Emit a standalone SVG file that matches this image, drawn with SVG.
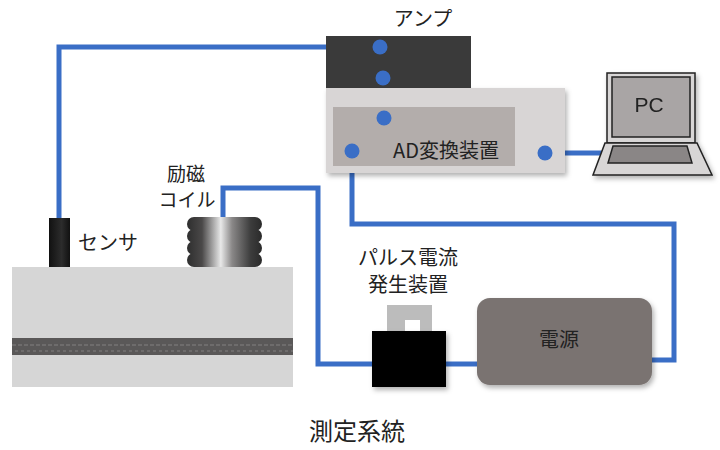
<svg xmlns="http://www.w3.org/2000/svg" width="720" height="450" viewBox="0 0 720 450">
  <defs>
    <style>
      .wire { fill: none; stroke: #3a6ec6; stroke-width: 5; stroke-linejoin: miter; }
      .dot { fill: #3a6ec6; }
      .lbl { font-family: "Noto Sans CJK JP", "Noto Sans", sans-serif; fill: #222; font-size: 20px; }
      .mid { text-anchor: middle; }
    </style>
    <filter id="shadow" x="-10%" y="-10%" width="125%" height="135%">
      <feDropShadow dx="2" dy="3" stdDeviation="2.5" flood-color="#000" flood-opacity="0.3"/>
    </filter>
    <linearGradient id="coilGrad" x1="0" y1="0" x2="1" y2="0">
      <stop offset="0" stop-color="#2e2e2e"/>
      <stop offset="0.2" stop-color="#4a4848"/>
      <stop offset="0.45" stop-color="#e8e8e8"/>
      <stop offset="0.6" stop-color="#8a8888"/>
      <stop offset="0.85" stop-color="#3c3c3c"/>
      <stop offset="1" stop-color="#2a2a2a"/>
    </linearGradient>
    <linearGradient id="sensorGrad" x1="0" y1="0" x2="1" y2="0">
      <stop offset="0" stop-color="#111"/>
      <stop offset="0.6" stop-color="#2c2c2c"/>
      <stop offset="1" stop-color="#111"/>
    </linearGradient>
    <pattern id="rebar" width="6" height="17" patternUnits="userSpaceOnUse">
      <rect width="6" height="17" fill="#5a5858"/>
      <rect x="0" y="4" width="4" height="2" fill="#6e6c6c"/>
      <rect x="3" y="10" width="4" height="2" fill="#6e6c6c"/>
    </pattern>
  </defs>

  <!-- connectors -->
  <g id="connectors">
    <polyline class="wire" points="59,220 59,47 380,47"/>
    <line class="wire" x1="383" y1="78" x2="383" y2="118"/>
    <line class="wire" x1="545" y1="153" x2="607" y2="153"/>
    <polyline class="wire" points="223,217 223,188 318,188 318,364 372,364"/>
    <line class="wire" x1="446" y1="364" x2="478" y2="364"/>
    <polyline class="wire" points="352,151 352,224 674,224 674,360 650,360"/>
  </g>

  <!-- test specimen with embedded rebar -->
  <g id="specimen">
    <rect x="12" y="267" width="281" height="120" fill="#d6d6d6"/>
    <rect x="12" y="338" width="281" height="17" fill="url(#rebar)"/>
  </g>

  <g id="sensor">
    <rect x="49" y="218" width="21" height="49" fill="url(#sensorGrad)"/>
    <text class="lbl" x="78" y="250">センサ</text>
  </g>

  <g id="coil">
    <rect x="187" y="217" width="75" height="14" rx="7" fill="url(#coilGrad)"/>
    <rect x="187" y="229" width="75" height="14" rx="7" fill="url(#coilGrad)"/>
    <rect x="187" y="241" width="75" height="14" rx="7" fill="url(#coilGrad)"/>
    <rect x="187" y="253" width="75" height="14" rx="7" fill="url(#coilGrad)"/>
    <text class="lbl mid" x="186" y="181" style="font-size:19px">励磁</text>
    <text class="lbl mid" x="187" y="207" style="font-size:19px">コイル</text>
  </g>

  <g id="amp">
    <rect x="326" y="36" width="145" height="52" fill="#3a3a3a"/>
    <circle class="dot" cx="380" cy="47" r="7.5"/>
    <circle class="dot" cx="383" cy="78" r="7.5"/>
    <text class="lbl mid" x="423" y="26">アンプ</text>
  </g>

  <g id="ad-converter">
    <rect x="326" y="88" width="239" height="85" fill="#d8d5d5" filter="url(#shadow)"/>
    <rect x="333" y="107" width="182" height="59" fill="#b3adab"/>
    <circle class="dot" cx="384" cy="118" r="7.5"/>
    <circle class="dot" cx="352" cy="151" r="7.5"/>
    <circle class="dot" cx="545" cy="153" r="7.5"/>
    <text class="lbl mid" x="446" y="158">AD変換装置</text>
  </g>

  <g id="pc" filter="url(#shadow)">
    <rect x="607" y="73" width="88" height="70" fill="#d8d6d6" stroke="#222" stroke-width="1.5"/>
    <rect x="612" y="77" width="78" height="60" fill="#a9a5a5" stroke="#222" stroke-width="1.5"/>
    <polygon points="605,143 697,143 712,175 593,175" fill="#d8d6d6" stroke="#222" stroke-width="1.5"/>
    <polygon points="613,146 687,146 692,163 608,163" fill="#8a8686" stroke="#222" stroke-width="1.5"/>
    <text class="lbl mid" x="649" y="112" style="font-family:'Liberation Sans', sans-serif; font-size:21px">PC</text>
  </g>

  <g id="pulse-generator">
    <rect x="387" y="305" width="45" height="27" fill="#bcbcbc"/>
    <rect x="405" y="320" width="15" height="12" fill="#fff"/>
    <rect x="372" y="331" width="74" height="56" fill="#050505" filter="url(#shadow)"/>
    <text class="lbl mid" x="408" y="265">パルス電流</text>
    <text class="lbl mid" x="408" y="292">発生装置</text>
  </g>

  <g id="power-supply">
    <rect x="477" y="298" width="175" height="87" rx="13" fill="#7a7371" filter="url(#shadow)"/>
    <text class="lbl mid" x="559" y="347">電源</text>
  </g>

  <text class="lbl mid" x="357" y="440" style="font-size:24px">測定系統</text>
</svg>
